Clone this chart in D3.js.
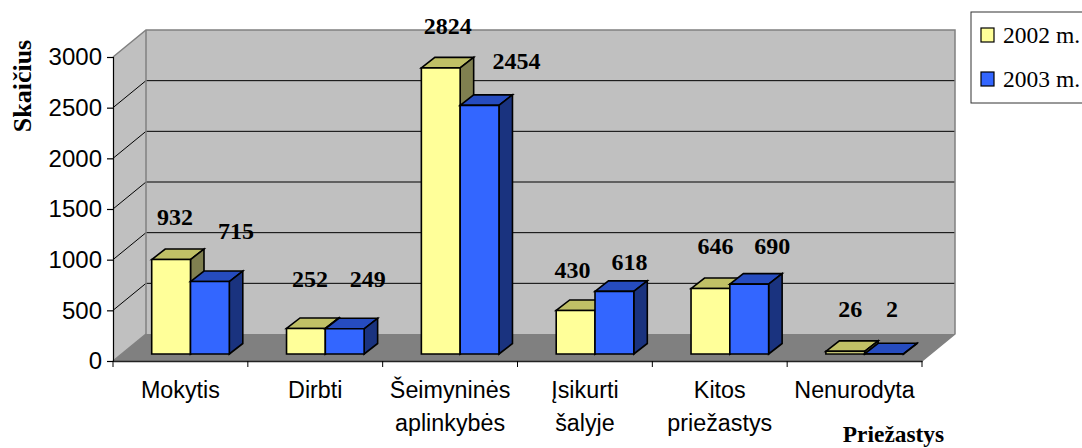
<!DOCTYPE html>
<html><head><meta charset="utf-8">
<script src="https://cdn.jsdelivr.net/npm/d3@7"></script>
<style>html,body{margin:0;padding:0;background:#fff;overflow:hidden}svg{display:block}</style>
</head><body><div id="c"></div>
<script>
const categories = ["Mokytis","Dirbti","Šeimyninės aplinkybės","Įsikurti šalyje","Kitos priežastys","Nenurodyta"];
const series2002 = [932,252,2824,430,646,26];
const series2003 = [715,249,2454,618,690,2];
const seriesNames = ["2002 m.","2003 m."];
const yTicks = [0,500,1000,1500,2000,2500,3000];
const yTitle = "Skaičius";
const xTitle = "Priežastys";

const W=1082,H=448;
const svg=d3.select("#c").append("svg").attr("width",W).attr("height",H);
const x=d3.scaleBand().domain(categories).range([113,922]).paddingInner(0).paddingOuter(0);
const y=d3.scaleLinear().domain([0,3000]).range([361,57]);
const dep={x:33,y:-27};
const sans="'Liberation Sans',Arial,sans-serif", serif="'Liberation Serif','Times New Roman',serif";
const grey="#808080";

// walls and floor
const poly=(pts,fill,stroke,sw)=>svg.append("polygon").attr("points",pts.map(p=>p.join(",")).join(" "))
  .attr("fill",fill).attr("stroke",stroke||"none").attr("stroke-width",sw||0);
const x0=x.range()[0],x1=x.range()[1];
poly([[x0+dep.x,y(3000)+dep.y],[x1+dep.x,y(3000)+dep.y],[x1+dep.x,y(0)+dep.y],[x0+dep.x,y(0)+dep.y]],"#C0C0C0");
poly([[x0,y(0)],[x0+dep.x,y(0)+dep.y],[x0+dep.x,y(3000)+dep.y],[x0,y(3000)]],"#C0C0C0");
poly([[x0,y(0)],[x0+dep.x,y(0)+dep.y],[x1+dep.x,y(0)+dep.y],[x1,y(0)]],grey);

// gridlines
yTicks.filter(t=>t>0&&t<3000).forEach(t=>{
  svg.append("polyline").attr("fill","none").attr("stroke","#000").attr("stroke-width",1)
    .attr("points",`${x0},${y(t)} ${x0+dep.x},${y(t)+dep.y} ${x1+dep.x},${y(t)+dep.y}`);
});
// wall borders
svg.append("polyline").attr("fill","none").attr("stroke",grey).attr("stroke-width",1.5)
  .attr("points",`${x0},${y(3000)} ${x0+dep.x},${y(3000)+dep.y} ${x1+dep.x},${y(3000)+dep.y} ${x1+dep.x},${y(0)+dep.y} ${x1},${y(0)}`);
svg.append("line").attr("stroke",grey).attr("stroke-width",1.5)
  .attr("x1",x0+dep.x).attr("x2",x0+dep.x).attr("y1",y(3000)+dep.y).attr("y2",y(0)+dep.y);
svg.append("line").attr("stroke",grey).attr("stroke-width",1.5)
  .attr("x1",x0+dep.x).attr("x2",x0).attr("y1",y(0)+dep.y).attr("y2",y(0));

// axes
const yAxis=d3.axisLeft(y).tickValues(yTicks).tickSize(6).tickPadding(5).tickFormat(d3.format("d"));
const gy=svg.append("g").attr("transform",`translate(${x0},0)`).call(yAxis);
gy.selectAll("text").attr("font-family",sans).attr("font-size",24).attr("fill","#000");
gy.selectAll("path,line").attr("stroke","#000").attr("stroke-width",1.2);

const xAxis=d3.axisBottom(x).tickSize(0).tickFormat("");
const gx=svg.append("g").attr("transform",`translate(0,${y(0)})`).call(xAxis);
gx.select("path").attr("stroke","#222").attr("stroke-width",1.6);
d3.range(categories.length+1).forEach(i=>{
  const tx=x0+i*x.bandwidth();
  gx.append("line").attr("x1",tx).attr("x2",tx).attr("y1",0).attr("y2",6).attr("stroke","#000").attr("stroke-width",1);
});

// category labels
const catLines=c=>c.includes(" ")?c.split(" "):[c];
categories.forEach(c=>{
  const t=svg.append("text").attr("text-anchor","middle").attr("font-family",sans).attr("font-size",23.3).attr("fill","#000");
  catLines(c).forEach((l,i)=>t.append("tspan").attr("x",x(c)+x.bandwidth()/2).attr("y",398+i*33).text(l));
});

// bars
const scaleH=v=>y(0)-y(v);
const base=354, bw=38.8, leftGap=38.7, d={x:13.5,y:-10.5};
const styles=[{f:"#FFFF99",t:"#C0C066",s:"#808050"},{f:"#3366FF",t:"#264CBF",s:"#1A337F"}];
const values=[series2002,series2003];
categories.forEach((c,ci)=>{
  values.forEach((vals,si)=>{
    const v=vals[ci],h=scaleH(v),l=x(c)+leftGap+si*bw,r=l+bw,top=base-h,st=styles[si];
    const sw=1.6;
    poly([[l,top],[l+d.x,top+d.y],[r+d.x,top+d.y],[r,top]],st.t,"#000",sw);
    poly([[r,top],[r+d.x,top+d.y],[r+d.x,base+d.y],[r,base]],st.s,"#000",sw);
    poly([[l,top],[r,top],[r,base],[l,base]],st.f,"#000",sw);
  });
});

// data labels, hand-placed in the original: offset from bar centre, and gap above the bar top
const labelDx=[[4,26],[4,23],[7,37],[-3,15],[5,23],[5,8]];
const labelGap=[[36,44],[42,43],[35,37],[33,22],[36,31],[35,38]];
categories.forEach((c,ci)=>{
  values.forEach((vals,si)=>{
    const v=vals[ci],cx=x(c)+leftGap+si*bw+bw/2;
    svg.append("text").attr("x",cx+labelDx[ci][si]).attr("y",base-scaleH(v)-labelGap[ci][si]+1)
      .attr("text-anchor","middle").attr("font-family",serif).attr("font-weight","bold").attr("font-size",24).attr("fill","#000").text(v);
  });
});

// titles
svg.append("text").attr("transform","translate(31,86) rotate(-90)").attr("text-anchor","middle")
  .attr("font-family",serif).attr("font-weight","bold").attr("font-size",26).text(yTitle);
svg.append("text").attr("x",893.5).attr("y",442).attr("text-anchor","middle")
  .attr("font-family",serif).attr("font-weight","bold").attr("font-size",23.4).text(xTitle);

// legend
svg.append("rect").attr("x",971).attr("y",12).attr("width",130).attr("height",91).attr("fill","#fff").attr("stroke","#333").attr("stroke-width",1);
seriesNames.forEach((n,i)=>{
  const ly=28+i*44;
  svg.append("rect").attr("x",981).attr("y",ly).attr("width",13).attr("height",14).attr("fill",styles[i].f).attr("stroke","#000").attr("stroke-width",1.2);
  svg.append("text").attr("x",1003).attr("y",ly+15).attr("font-family",serif).attr("font-size",23.5).attr("fill","#000").text(n);
});
</script></body></html>
